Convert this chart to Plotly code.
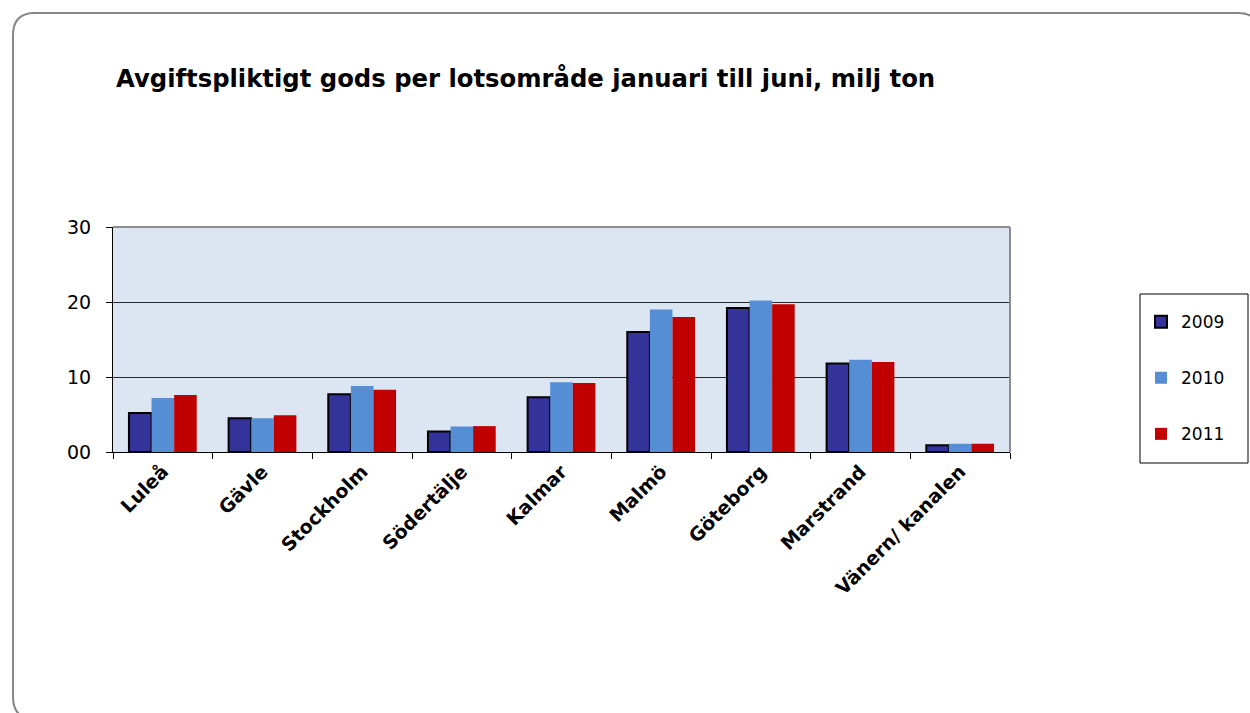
import plotly.graph_objects as go

categories = ["Luleå", "Gävle", "Stockholm", "Södertälje", "Kalmar",
              "Malmö", "Göteborg", "Marstrand", "Vänern/ kanalen"]
series_names = ["2009", "2010", "2011"]
values_2009 = [5.2, 4.5, 7.7, 2.75, 7.3, 16.0, 19.2, 11.8, 0.9]
values_2010 = [7.2, 4.5, 8.8, 3.4, 9.3, 19.0, 20.2, 12.3, 1.1]
values_2011 = [7.6, 4.9, 8.3, 3.45, 9.2, 18.0, 19.7, 12.0, 1.1]
y_tickvals = [0, 10, 20, 30]
y_ticktext = ["00", "10", "20", "30"]
title_text = "Avgiftspliktigt gods per lotsområde januari till juni, milj ton"

W, H = 1250, 713
L, R, T, B = 113, 1010, 227, 452  # plot area in pixels
FONT = "DejaVu Sans, Arial, sans-serif"

def px(x):
    return (x - L) / (R - L)

def py(y):
    return (B - y) / (B - T)

fig = go.Figure()
fig.add_trace(go.Bar(x=categories, y=values_2009, name=series_names[0],
                     legendgroup="a",
                     marker=dict(color="#333399", line=dict(color="#000000", width=2))))
fig.add_trace(go.Bar(x=categories, y=values_2010, name=series_names[1],
                     legendgroup="b",
                     marker=dict(color="#558ED5", line=dict(width=0))))
fig.add_trace(go.Bar(x=categories, y=values_2011, name=series_names[2],
                     legendgroup="c",
                     marker=dict(color="#C00000", line=dict(width=0))))

# outer rounded border
r = 22
x0, y0, x1, y1 = 13, 13, 1260, 719
path = (f"M {px(x0)},{py(y0 + r)} Q {px(x0)},{py(y0)} {px(x0 + r)},{py(y0)} "
        f"L {px(x1 - r)},{py(y0)} Q {px(x1)},{py(y0)} {px(x1)},{py(y0 + r)} "
        f"L {px(x1)},{py(y1 - r)} Q {px(x1)},{py(y1)} {px(x1 - r)},{py(y1)} "
        f"L {px(x0 + r)},{py(y1)} Q {px(x0)},{py(y1)} {px(x0)},{py(y1 - r)} Z")

shapes = [
    dict(type="path", path=path, xref="paper", yref="paper",
         line=dict(color="#878787", width=2), layer="below"),
    dict(type="line", xref="paper", yref="paper", x0=0, x1=1, y0=1, y1=1,
         line=dict(color="#8c8c8c", width=2), layer="above"),
    dict(type="line", xref="paper", yref="paper", x0=1, x1=1, y0=0, y1=1,
         line=dict(color="#8c8c8c", width=2), layer="above"),
    # legend frame
    dict(type="rect", xref="paper", yref="paper",
         x0=px(1140), x1=px(1248), y0=py(463), y1=py(294),
         line=dict(color="black", width=1), fillcolor="white", layer="below"),
]

fig.update_layout(
    width=W, height=H,
    margin=dict(l=L, r=W - R, t=T, b=H - B, autoexpand=False),
    paper_bgcolor="white",
    plot_bgcolor="#DCE6F2",
    font=dict(family=FONT, color="black"),
    barmode="group",
    bargap=0.32,
    bargroupgap=0,
    title=dict(text=f"<b>{title_text}</b>", x=116 / W, xref="container",
               xanchor="left", y=1 - 78 / H, yref="container", yanchor="middle",
               font=dict(size=24.3, family=FONT, color="black")),
    xaxis=dict(showline=True, linecolor="black", linewidth=1,
               ticks="outside", ticklen=6, tickcolor="black",
               tickson="boundaries", tickangle=-45,
               tickfont=dict(size=19, family=FONT, color="black", weight="bold"),
               showgrid=False, fixedrange=True),
    yaxis=dict(range=[0, 30], tickvals=y_tickvals, ticktext=y_ticktext,
               showline=True, linecolor="black", linewidth=1,
               ticks="outside", ticklen=6, tickcolor="black",
               ticklabelstandoff=11,
               tickfont=dict(size=19, family=FONT, color="black"),
               showgrid=True, gridcolor="#2a2a2a", gridwidth=1,
               zeroline=False, fixedrange=True),
    legend=dict(x=px(1141), y=py(295), xanchor="left", yanchor="top",
                borderwidth=0, bgcolor="rgba(0,0,0,0)",
                font=dict(size=17, family=FONT, color="black"),
                title=dict(text="\u00a0", font=dict(size=7)),
                tracegroupgap=31, itemwidth=30),
    shapes=shapes,
)

fig.write_html(
    "out.html",
    config={"displayModeBar": False},
    post_script="document.body.style.margin='0';document.body.style.overflow='hidden';",
)
